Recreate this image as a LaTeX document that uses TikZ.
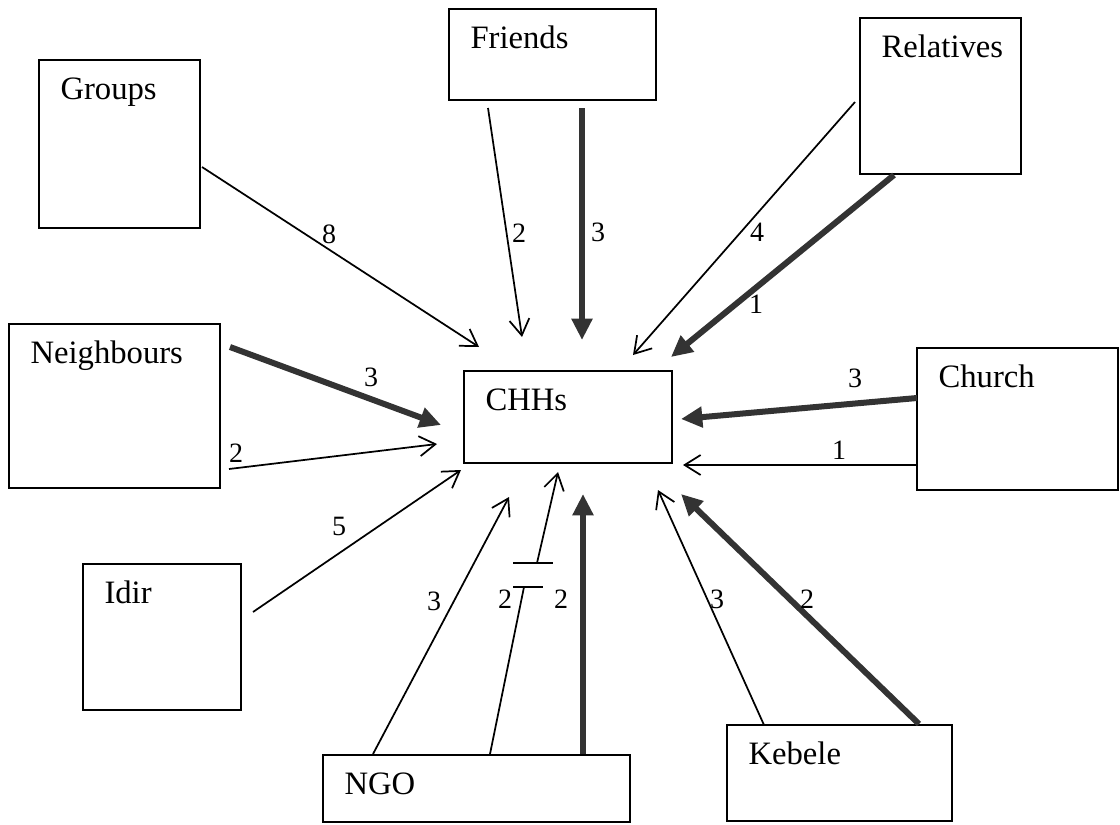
\documentclass[tikz,border=0pt]{standalone}
\usepackage{fontspec}
\setmainfont{Liberation Serif}
\usetikzlibrary{arrows.meta,fit}

\tikzset{
  box/.style={draw, line width=1.1pt, inner sep=0pt},
  boxtxt/.style={anchor=base west, inner sep=0pt, font=\fontsize{24.5}{29}\selectfont},
  val/.style={inner sep=0pt, font=\fontsize{21}{25}\selectfont},
  light/.style={line width=1.3pt, -{Straight Barb[length=12pt,width=15pt]}},
  heavy/.style={line width=4.5pt, draw=black!80, -{Triangle[length=16pt,width=15pt]}},
}

\begin{document}
\begin{tikzpicture}[x=0.75pt,y=-0.75pt]
\useasboundingbox (0,0) rectangle (1120,824);

% boxes (corners in pixels)
\foreach \n/\a/\b in {groups/{39,60}/{200,228}, friends/{449,9}/{656,100},
    relatives/{860,18}/{1021,174}, neighbours/{9,324}/{220,488},
    chhs/{464,371}/{672,463}, church/{917,348}/{1118,490},
    idir/{83,564}/{241,710}, ngo/{323,755}/{630,822}, kebele/{727,725}/{952,821}}
  \node[box, fit={(\a) (\b)}] (\n) {};

\foreach \n/\t in {groups/Groups, friends/Friends, relatives/Relatives,
    neighbours/Neighbours, chhs/CHHs, church/Church, idir/Idir, ngo/NGO, kebele/Kebele}
  \node[boxtxt] (\n-txt) at ([shift={(22,40)}]\n.north west) {\t};

% where the lines leave the outer boxes
\coordinate (gr-o) at (202,167);
\coordinate (fr-o1) at (488,108);
\coordinate (fr-o2) at (582,108);
\coordinate (re-o1) at (855,102);
\coordinate (re-o2) at (894,175);
\coordinate (cu-o1) at (917,398);
\coordinate (cu-o2) at (917,465);
\coordinate (ke-o1) at (764,725);
\coordinate (ke-o2) at (919,724);
\coordinate (ng-o1) at (373,754);
\coordinate (ng-o2) at (490,754);
\coordinate (ng-o3) at (583,754);
\coordinate (id-o) at (253,612);
\coordinate (ne-o1) at (230,347);
\coordinate (ne-o2) at (229,469);

% where they stop near CHHs
\coordinate (gr-i) at (479,347);
\coordinate (fr-i1) at (522,337);
\coordinate (fr-i2) at (582,340);
\coordinate (re-i1) at (633,355);
\coordinate (re-i2) at (671,357);
\coordinate (cu-i1) at (681,419);
\coordinate (cu-i2) at (683,465);
\coordinate (ke-i1) at (658,490);
\coordinate (ke-i2) at (681,494);
\coordinate (ng-i1) at (509,497);
\coordinate (ng-i2) at (558,472);
\coordinate (ng-i3) at (583,494);
\coordinate (id-i) at (461,470);
\coordinate (ne-i1) at (441,425);
\coordinate (ne-i2) at (437,444);

\draw[light] (gr-o) -- (gr-i);
\draw[light] (fr-o1) -- (fr-i1);
\draw[heavy] (fr-o2) -- (fr-i2);
\draw[light] (re-o1) -- (re-i1);
\draw[heavy] (re-o2) -- (re-i2);
\draw[heavy] (cu-o1) -- (cu-i1);
\draw[light] (cu-o2) -- (cu-i2);
\draw[light] (ke-o1) -- (ke-i1);
\draw[heavy] (ke-o2) -- (ke-i2);
\draw[light] (ng-o1) -- (ng-i1);
\draw[heavy] (ng-o3) -- (ng-i3);
\draw[light] (id-o) -- (id-i);
\draw[heavy] (ne-o1) -- (ne-i1);
\draw[light] (ne-o2) -- (ne-i2);

% broken link from NGO
\coordinate (brk-lo) at (524,587);
\coordinate (brk-hi) at (537,563);
\draw[line width=1.3pt] (ng-o2) -- (brk-lo);
\draw[line width=1.3pt] (513,587) -- (543,587) (513,563) -- (553,563);
\draw[light] (brk-hi) -- (ng-i2);

% tie numbers
\foreach \xy/\v [count=\i] in {{329,234}/8, {519,233}/2, {598,232}/3, {757,232}/4,
    {756,304}/1, {855,378}/3, {839,450}/1, {371,377}/3, {236,453}/2, {339,526}/5,
    {434,601}/3, {505,599}/2, {561,599}/2, {717,599}/3, {807,599}/2}
  \node[val] (v\i) at (\xy) {\v};
\end{tikzpicture}
\end{document}
